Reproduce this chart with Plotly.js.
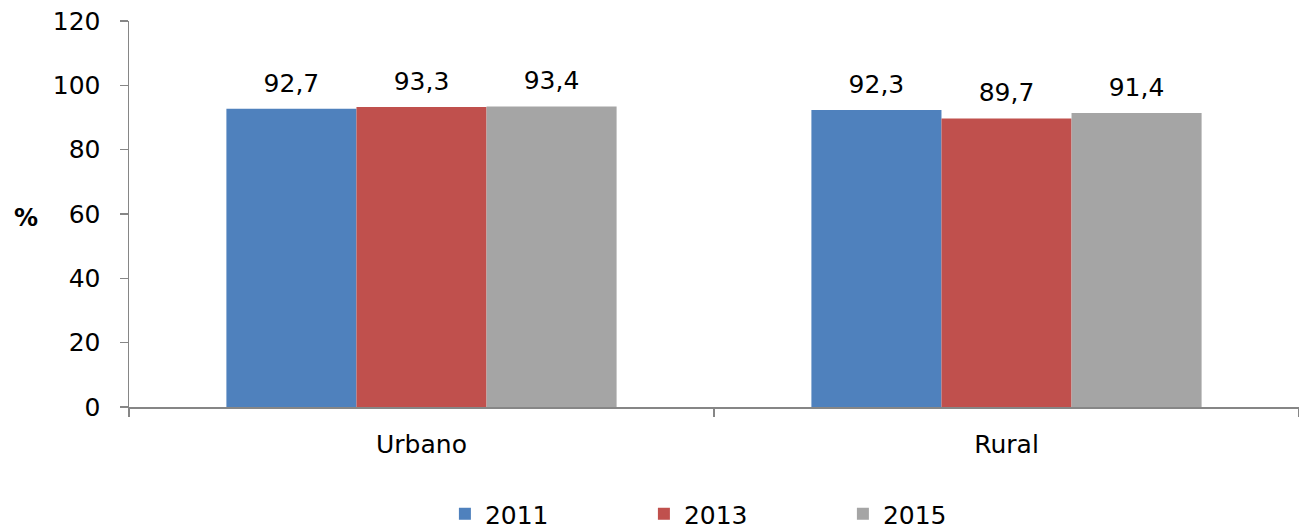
<!DOCTYPE html>
<html>
<head>
<meta charset="utf-8">
<script src="https://cdn.plot.ly/plotly-3.0.1.min.js"></script>
<style>html,body{margin:0;padding:0;background:#fff;}#chart{width:1299px;height:531px;}</style>
</head>
<body>
<div id="chart"></div>
<script>
const categories = ["Urbano", "Rural"];
const seriesNames = ["2011", "2013", "2015"];
const values2011 = [92.7, 92.3];
const values2013 = [93.3, 89.7];
const values2015 = [93.4, 91.4];
const colors = ["#4F81BD", "#C0504D", "#A5A5A5"];
const yTicks = [0, 20, 40, 60, 80, 100, 120];

const FONT = "DejaVu Sans, Verdana, sans-serif";
const fmt = v => v.toFixed(1).replace(".", ",");
const allVals = [values2011, values2013, values2015];
const bars = allVals.map((vals, i) => ({
  type: "bar",
  name: seriesNames[i],
  x: categories,
  y: vals,
  marker: {color: colors[i], line: {width: 0}}
}));
const labels = allVals.map((vals, i) => ({
  type: "scatter",
  mode: "markers+text",
  name: seriesNames[i] + " labels",
  showlegend: false,
  x: categories,
  y: vals,
  text: vals.map(fmt),
  textposition: "top center",
  marker: {size: 16, color: "rgba(0,0,0,0)"},
  cliponaxis: false,
  textfont: {family: FONT, size: 25, color: "#000"}
}));

const layout = {
  width: 1299, height: 531,
  margin: {l: 129, r: 0, t: 21, b: 124},
  paper_bgcolor: "#fff", plot_bgcolor: "#fff",
  font: {family: FONT, size: 25, color: "#000"},
  barmode: "group",
  bargap: 0.333,
  bargroupgap: 0,
  scattermode: "group",
  scattergap: 0.333,
  showlegend: true,
  legend: {orientation: "h", xref: "paper", x: 0.270, xanchor: "left",
           yref: "container", y: 0.032, yanchor: "middle",
           entrywidth: 154, entrywidthmode: "pixels",
           font: {size: 25}, itemwidth: 30, traceorder: "normal"},
  xaxis: {
    type: "category",
    showline: true, linecolor: "#868686", linewidth: 1.5,
    ticks: "outside", tickson: "boundaries", ticklen: 8, tickcolor: "#868686", tickwidth: 1.5,
    showgrid: false, zeroline: false,
    tickfont: {size: 25}, ticklabelstandoff: 14
  },
  yaxis: {
    range: [0, 120],
    tickvals: yTicks,
    showline: true, linecolor: "#868686", linewidth: 1.5,
    ticks: "outside", ticklen: 8, tickcolor: "#868686", tickwidth: 1.5,
    showgrid: false, zeroline: false,
    tickfont: {size: 25}, ticklabelstandoff: 14
  },
  annotations: [{
    text: "<b>%</b>", xref: "paper", yref: "paper",
    x: -0.088, y: 0.49, xanchor: "center", yanchor: "middle",
    showarrow: false, font: {size: 24, color: "#000"}
  }]
};

Plotly.newPlot("chart", bars.concat(labels), layout, {displayModeBar: false, staticPlot: true});
</script>
</body>
</html>
